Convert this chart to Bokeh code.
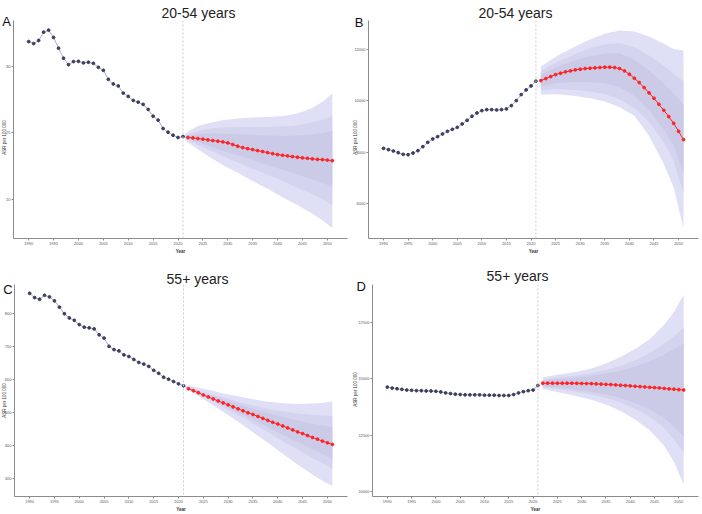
import math

from bokeh.plotting import figure
from bokeh.models import Range1d, FixedTicker, Span
from bokeh.layouts import column, row
from bokeh.core.properties import value
from bokeh.embed import file_html
from bokeh.resources import INLINE

# ---------------------------------------------------------------- data
OBS_YEARS = list(range(1990, 2022))
FC_YEARS = list(range(2022, 2052))
X_TICKS = list(range(1990, 2051, 5))

# Panel A: 20-54 years
A_OBS = [31.89, 31.74, 31.97, 32.60, 32.75, 32.20, 31.39, 30.63, 30.15, 30.38,
         30.40, 30.28, 30.33, 30.25, 29.95, 29.72, 29.04, 28.69, 28.54, 28.00,
         27.75, 27.45, 27.32, 27.15, 26.77, 26.26, 25.96, 25.33, 25.05, 24.82,
         24.65, 24.72]
A_FC = [24.65, 24.62, 24.57, 24.52, 24.47, 24.42, 24.37, 24.32, 24.24, 24.12,
        23.99, 23.89, 23.81, 23.74, 23.66, 23.59, 23.51, 23.43, 23.36, 23.31,
        23.26, 23.21, 23.16, 23.11, 23.08, 23.03, 23.00, 22.98, 22.95, 22.90]
A_BAND_YEARS = [2021, 2022, 2024, 2026, 2029, 2032, 2035, 2038, 2041, 2044, 2047, 2049, 2051]
A_OUT_HI = [24.72, 25.10, 25.51, 25.73, 25.96, 26.09, 26.16, 26.19, 26.26, 26.46, 26.87, 27.35, 27.98]
A_OUT_LO = [24.72, 24.27, 23.76, 23.26, 22.58, 21.99, 21.36, 20.78, 20.15, 19.55, 18.89, 18.41, 17.83]
A_MID_HI = [24.72, 24.90, 25.15, 25.30, 25.40, 25.45, 25.45, 25.45, 25.48, 25.58, 25.81, 26.01, 26.29]
A_MID_LO = [24.72, 24.44, 24.09, 23.74, 23.23, 22.78, 22.30, 21.84, 21.36, 20.86, 20.35, 20.00, 19.55]
A_IN_HI = [24.72, 24.80, 24.90, 24.95, 24.95, 24.90, 24.85, 24.80, 24.77, 24.80, 24.90, 25.00, 25.15]
A_IN_LO = [24.72, 24.54, 24.29, 24.04, 23.64, 23.31, 22.93, 22.58, 22.22, 21.87, 21.49, 21.24, 20.91]
A_Y_TICKS = [20, 25, 30]

# Panel B: 20-54 years
B_OBS = [8156, 8104, 8052, 7987, 7922, 7909, 7974, 8065, 8221, 8390,
         8519, 8610, 8714, 8818, 8896, 8974, 9104, 9247, 9403, 9532,
         9623, 9662, 9662, 9649, 9662, 9688, 9818, 10013, 10247, 10429,
         10584, 10766]
B_FC = [10792, 10870, 10948, 11026, 11078, 11130, 11169, 11208, 11234, 11260,
        11273, 11286, 11299, 11312, 11312, 11299, 11260, 11169, 11039, 10883,
        10714, 10519, 10312, 10104, 9870, 9636, 9390, 9130, 8818, 8494]
B_BAND_YEARS = [2022, 2024, 2026, 2029, 2032, 2035, 2038, 2041, 2044, 2047, 2049, 2051]
B_OUT_HI = [11338, 11597, 11831, 12117, 12390, 12610, 12740, 12701, 12506, 12221, 12026, 11961]
B_OUT_LO = [10247, 10260, 10247, 10195, 10104, 9974, 9753, 9429, 8649, 7545, 6636, 5052]
B_MID_HI = [11156, 11377, 11571, 11831, 12052, 12208, 12247, 12091, 11766, 11377, 11052, 10766]
B_MID_LO = [10429, 10455, 10455, 10429, 10364, 10273, 10065, 9727, 9169, 8390, 7675, 6377]
B_IN_HI = [11013, 11208, 11377, 11584, 11740, 11844, 11857, 11610, 11182, 10675, 10286, 9857]
B_IN_LO = [10571, 10649, 10701, 10740, 10727, 10688, 10545, 10195, 9623, 8883, 8260, 7221]
B_Y_TICKS = [6000, 8000, 10000, 12000]

# Panel C: 55+ years
C_OBS = [862, 849, 844, 856, 851, 839, 820, 800, 787, 780,
         767, 759, 757, 754, 736, 726, 701, 691, 687, 675,
         670, 661, 652, 647, 640, 628, 619, 607, 601, 594,
         587, 581]
C_FC = [572, 566, 560, 553, 547, 541, 535, 529, 523, 517,
        511, 505, 499, 494, 488, 482, 476, 470, 465, 459,
        453, 447, 441, 436, 430, 424, 419, 413, 408, 403]
C_BAND_YEARS = [2021, 2022, 2024, 2026, 2029, 2032, 2035, 2038, 2041, 2044, 2047, 2049, 2051]
C_OUT_HI = [581, 581, 575, 569, 558, 549, 540, 533, 528, 526, 527, 529, 534]
C_OUT_LO = [581, 568, 550, 531, 502, 472, 440, 408, 375, 342, 312, 293, 277]
C_MID_HI = [581, 577, 567, 558, 546, 533, 521, 511, 503, 497, 493, 491, 489]
C_MID_LO = [581, 570, 556, 541, 517, 492, 467, 440, 413, 387, 362, 346, 329]
C_IN_HI = [581, 575, 564, 554, 540, 525, 511, 498, 486, 476, 466, 461, 455]
C_IN_LO = [581, 571, 558, 544, 523, 500, 479, 456, 432, 410, 388, 374, 358]
C_Y_TICKS = [300, 400, 500, 600, 700, 800]

# Panel D: 55+ years
D_OBS = [14628, 14585, 14556, 14528, 14499, 14485, 14470, 14470, 14456, 14456,
         14442, 14413, 14370, 14342, 14313, 14299, 14285, 14285, 14285, 14285,
         14270, 14270, 14270, 14256, 14256, 14256, 14299, 14370, 14428, 14470,
         14499, 14700]
D_FC = [14800, 14800, 14800, 14800, 14800, 14800, 14800, 14795, 14790, 14785,
        14780, 14770, 14760, 14750, 14740, 14725, 14710, 14695, 14680, 14665,
        14650, 14635, 14620, 14605, 14590, 14570, 14550, 14535, 14515, 14500]
D_BAND_YEARS = [2022, 2024, 2026, 2029, 2032, 2035, 2038, 2041, 2044, 2047, 2049, 2051]
D_OUT_HI = [15057, 15143, 15215, 15315, 15458, 15673, 15959, 16317, 16746, 17390, 17962, 18721]
D_OUT_LO = [14542, 14456, 14370, 14227, 14070, 13855, 13569, 13197, 12710, 12024, 11308, 10307]
D_MID_HI = [14957, 15029, 15072, 15143, 15243, 15386, 15572, 15816, 16145, 16560, 16889, 17290]
D_MID_LO = [14628, 14571, 14513, 14413, 14299, 14141, 13941, 13669, 13311, 12811, 12310, 11738]
D_IN_HI = [14914, 14971, 15000, 15057, 15129, 15229, 15358, 15529, 15773, 16073, 16302, 16588]
D_IN_LO = [14671, 14628, 14585, 14499, 14413, 14299, 14141, 13927, 13640, 13254, 12868, 12424]
D_Y_TICKS = [10000, 12500, 15000, 17500]

# headings
PANEL_LETTERS = ["A", "B", "C", "D"]
PANEL_TITLES = ["20-54 years", "20-54 years", "55+ years", "55+ years"]
Y_LABEL = "ASR per 100 000"

# ---------------------------------------------------------------- style
WIN_W, WIN_H = 702, 514
PANEL_W, PANEL_H = 351, 257
X_RANGE = (1986.95, 2054.05)
BAND_COLORS = ["#dfdff6", "#d4d4ef", "#cbcbe8"]
OBS_LINE = "#a9a9db"
OBS_DOT = "#3d3d5c"
FC_RED = "#ff2424"
AXIS_GREY = "#8c8c8c"
FONT = "Liberation Sans"


def make_panel(obs, fc, band_years, bands, y_range, y_ticks, border):
    left, right, top, bottom = border
    p = figure(width=PANEL_W, height=PANEL_H, output_backend="svg",
               toolbar_location=None,
               x_range=Range1d(*X_RANGE), y_range=Range1d(*y_range),
               min_border_left=left, min_border_right=right,
               min_border_top=top, min_border_bottom=bottom)
    p.outline_line_color = None
    p.grid.visible = False
    p.background_fill_color = "white"
    p.border_fill_color = "white"

    # uncertainty ribbons, widest first
    for (lo, hi), col in zip(bands, BAND_COLORS):
        p.varea(x=band_years, y1=lo, y2=hi, fill_color=col)

    p.add_layout(Span(location=2021, dimension="height", line_color="#cccccc",
                      line_dash="2 2", line_width=1))

    p.line(OBS_YEARS, obs, line_color=OBS_LINE, line_width=1)
    p.scatter(OBS_YEARS, obs, size=2.8, fill_color=OBS_DOT, line_color=OBS_DOT)
    p.line(FC_YEARS, fc, line_color=FC_RED, line_width=1)
    p.scatter(FC_YEARS, fc, size=2.8, fill_color=FC_RED, line_color=FC_RED)

    p.xaxis.ticker = FixedTicker(ticks=X_TICKS)
    p.yaxis.ticker = FixedTicker(ticks=y_ticks)
    p.xaxis.axis_label = "Year"
    for ax in (p.xaxis[0], p.yaxis[0]):
        ax.axis_line_color = AXIS_GREY
        ax.axis_line_width = 1
        ax.major_tick_line_color = AXIS_GREY
        ax.major_tick_out = 2
        ax.major_tick_in = 0
        ax.minor_tick_line_color = None
        ax.major_label_text_font = FONT
        ax.major_label_text_font_size = "4px"
        ax.major_label_text_color = "#555555"
        ax.major_label_standoff = 1
    xa = p.xaxis[0]
    xa.axis_label_text_font = FONT
    xa.axis_label_text_font_size = "4.5px"
    xa.axis_label_text_color = "#333333"
    xa.axis_label_text_font_style = "bold"
    xa.axis_label_standoff = 1
    return p


pa = make_panel(A_OBS, A_FC, A_BAND_YEARS,
                [(A_OUT_LO, A_OUT_HI), (A_MID_LO, A_MID_HI), (A_IN_LO, A_IN_HI)],
                (17.03, 33.48), A_Y_TICKS, (13, 4, 20, 19))
pb = make_panel(B_OBS, B_FC, B_BAND_YEARS,
                [(B_OUT_LO, B_OUT_HI), (B_MID_LO, B_MID_HI), (B_IN_LO, B_IN_HI)],
                (4649, 13130), B_Y_TICKS, (17, 4, 20, 19))
pc = make_panel(C_OBS, C_FC, C_BAND_YEARS,
                [(C_OUT_LO, C_OUT_HI), (C_MID_LO, C_MID_HI), (C_IN_LO, C_IN_HI)],
                (244.8, 888.8), C_Y_TICKS, (14, 4, 27, 13))
pd_ = make_panel(D_OBS, D_FC, D_BAND_YEARS,
                 [(D_OUT_LO, D_OUT_HI), (D_MID_LO, D_MID_HI), (D_IN_LO, D_IN_HI)],
                 (9777, 19179), D_Y_TICKS, (21, 4, 27, 11))

panels = column(row(pa, pb), row(pc, pd_))

# transparent sheet laid over the panels, carrying the headings and y labels
# in page pixels
sheet = figure(width=WIN_W, height=WIN_H, output_backend="svg",
               toolbar_location=None, x_range=Range1d(0, WIN_W),
               y_range=Range1d(WIN_H, 0), x_axis_location=None,
               y_axis_location=None, min_border=0,
               styles={"position": "absolute", "left": "0px", "top": "0px"})
sheet.outline_line_color = None
sheet.grid.visible = False
sheet.background_fill_color = None
sheet.border_fill_color = None

sheet.text(x=[198, 351 + 164, 197, 351 + 166],
           y=[12.7, 12.7, 257 + 21.7, 257 + 18.3],
           text=PANEL_TITLES, text_font=value(FONT), text_font_size="14px",
           text_color="#222222", text_align="center", text_baseline="alphabetic")
sheet.text(x=[1.7, 351 + 3.3, 2.7, 351 + 5],
           y=[20.7, 21.7, 257 + 31.7, 257 + 29],
           text=PANEL_LETTERS, text_font=value(FONT), text_font_size="13px",
           text_color="#111111", text_align="left", text_baseline="alphabetic")
sheet.text(x=[3.5, 351 + 4, 3.5, 351 + 4],
           y=[137, 137, 257 + 143, 257 + 132],
           text=[Y_LABEL] * 4, angle=math.pi / 2, text_font=value(FONT),
           text_font_size="4.5px", text_color="#333333",
           text_align="center", text_baseline="middle")

open("out.html", "w").write(file_html([panels, sheet], INLINE))
